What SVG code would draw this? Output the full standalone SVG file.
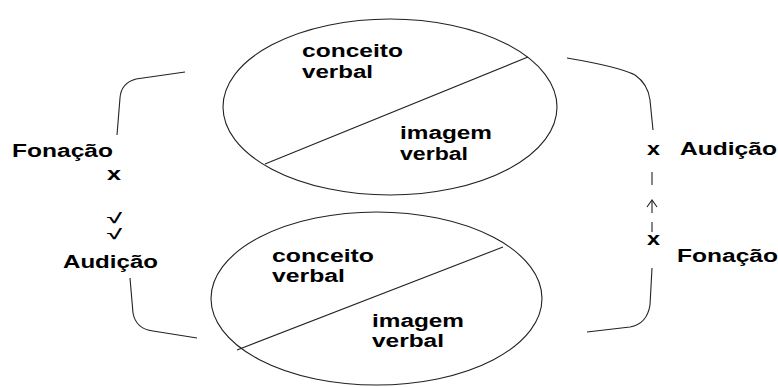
<svg xmlns="http://www.w3.org/2000/svg" width="778" height="387" viewBox="0 0 778 387">
<style>
.e{fill:none;stroke:#222;stroke-width:1.1}
.c{fill:none;stroke:#222;stroke-width:1.1}
.t{font-family:"Liberation Sans",Arial,sans-serif;font-weight:bold;font-size:18px;fill:#000}
.m{font-family:"Liberation Sans",Arial,sans-serif;font-weight:bold;font-size:14px;fill:#000}
</style>
<rect width="778" height="387" fill="#fff"/>
<g id="top-circle">
<ellipse class="e" cx="390" cy="107" rx="167" ry="88"/>
<line class="e" x1="265" y1="164" x2="528" y2="57"/>
<text class="t" x="302" y="57" textLength="101" lengthAdjust="spacingAndGlyphs">conceito</text>
<text class="t" x="302" y="78" textLength="71" lengthAdjust="spacingAndGlyphs">verbal</text>
<text class="t" x="400" y="139" textLength="92" lengthAdjust="spacingAndGlyphs">imagem</text>
<text class="t" x="400" y="160" textLength="68" lengthAdjust="spacingAndGlyphs">verbal</text>
</g>
<g id="bottom-circle">
<ellipse class="e" cx="376.5" cy="298.5" rx="165.5" ry="86.5"/>
<line class="e" x1="237" y1="350" x2="503" y2="247"/>
<text class="t" x="272" y="262" textLength="102" lengthAdjust="spacingAndGlyphs">conceito</text>
<text class="t" x="272" y="282" textLength="73" lengthAdjust="spacingAndGlyphs">verbal</text>
<text class="t" x="372" y="327" textLength="92" lengthAdjust="spacingAndGlyphs">imagem</text>
<text class="t" x="372" y="347" textLength="72" lengthAdjust="spacingAndGlyphs">verbal</text>
</g>
<g id="left-labels">
<text class="t" x="12" y="157" textLength="101" lengthAdjust="spacingAndGlyphs">Fonação</text>
<text class="t" x="107" y="180" textLength="14" lengthAdjust="spacingAndGlyphs">x</text>
<text class="m" x="107" y="223" textLength="15" lengthAdjust="spacingAndGlyphs">√</text>
<text class="m" x="107" y="239" textLength="15" lengthAdjust="spacingAndGlyphs">√</text>
<text class="t" x="63" y="268" textLength="95" lengthAdjust="spacingAndGlyphs">Audição</text>
</g>
<g id="right-labels">
<text class="t" x="647" y="155" textLength="13" lengthAdjust="spacingAndGlyphs">x</text>
<text class="t" x="680" y="155" textLength="97" lengthAdjust="spacingAndGlyphs">Audição</text>
<text class="t" x="647" y="245" textLength="13" lengthAdjust="spacingAndGlyphs">x</text>
<text class="t" x="677" y="262" textLength="101" lengthAdjust="spacingAndGlyphs">Fonação</text>
</g>
<g id="connectors">
<path class="c" d="M185,72 L136,79 Q121,83 120,98 L117,135"/>
<path class="c" d="M130,278 L133,313 Q136,329 153,331 L197,338"/>
<path class="c" d="M567,58 Q620,67 635,75 Q648,84 650,100 L653,130"/>
<path class="c" d="M652,268 L650,305 Q647,324 630,327 L587,332"/>
<line class="c" x1="652" y1="172" x2="652" y2="185" stroke-width="1.5"/>
<line class="c" x1="652" y1="201" x2="652" y2="213" stroke-width="1.2"/>
<path class="c" d="M647,207 L652,200 L657,207" stroke-width="1.2"/>
<line class="c" x1="652" y1="222" x2="652" y2="232" stroke-width="1.5"/>
</g>
</svg>
